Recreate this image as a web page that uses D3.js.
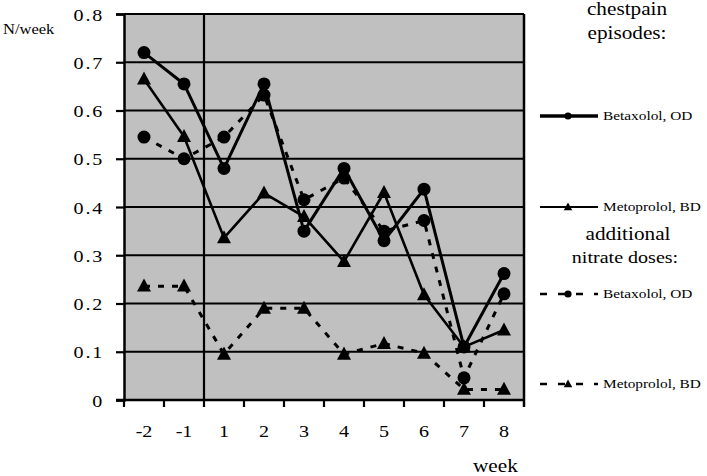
<!DOCTYPE html>
<html><head><meta charset="utf-8">
<script src="https://cdn.jsdelivr.net/npm/d3@7"></script>
<style>
html,body{margin:0;padding:0;background:#fff;}
svg{display:block;}
text{font-family:"Liberation Serif","Times New Roman",serif;fill:#000;}
</style></head>
<body>
<svg id="chart" width="707" height="476"></svg>
<script>
// ---- data ----
const weeks = ["-2","-1","1","2","3","4","5","6","7","8"];
const chestBetaxolol = [0.72, 0.655, 0.48, 0.655, 0.35, 0.48, 0.33, 0.437, 0.11, 0.262];
const chestMetoprolol = [0.665, 0.546, 0.336, 0.429, 0.38, 0.287, 0.43, 0.218, 0.11, 0.145];
const nitrateBetaxolol = [0.545, 0.50, 0.545, 0.632, 0.415, 0.46, 0.35, 0.372, 0.046, 0.22];
const nitrateMetoprolol = [0.236, 0.236, 0.095, 0.19, 0.19, 0.095, 0.117, 0.097, 0.022, 0.022];
const yTicks = [0, 0.1, 0.2, 0.3, 0.4, 0.5, 0.6, 0.7, 0.8];
const yTickLabels = ["0","0.1","0.2","0.3","0.4","0.5","0.6","0.7","0.8"];
const legendItems = [
  {label:"Betaxolol, OD", marker:"circle", dashed:false},
  {label:"Metoprolol, BD", marker:"triangle", dashed:false},
  {label:"Betaxolol, OD", marker:"circle", dashed:true},
  {label:"Metoprolol, BD", marker:"triangle", dashed:true}
];

const svg = d3.select("#chart");
const L = 124, R = 524, T = 14, B = 400;
const SX = 1.18; // horizontal text stretch

const x = d3.scaleBand().domain(weeks).range([L, R]).paddingInner(0).paddingOuter(0);
const y = d3.scaleLinear().domain([0, 0.8]).range([B, T]);
const cx = d => x(d) + x.bandwidth()/2;

function txt(px, py, s, size, anchor, extra){
  const t = svg.append("text")
    .attr("transform", `translate(${px},${py}) scale(${SX},1)`)
    .attr("font-size", size)
    .attr("text-anchor", anchor || "start")
    .text(s);
  if (extra) extra(t);
  return t;
}

// plot background
svg.append("rect").attr("x", L).attr("y", T).attr("width", R - L).attr("height", B - T).attr("fill", "#c0c0c0");

// horizontal gridlines
svg.append("g").selectAll("line").data(yTicks.filter(v => v > 0)).join("line")
  .attr("x1", L).attr("x2", R).attr("y1", d => y(d)).attr("y2", d => y(d))
  .attr("stroke", "#000").attr("stroke-width", 2);

// vertical separator between run-in (-1) and treatment (1)
svg.append("line").attr("x1", x("1")).attr("x2", x("1")).attr("y1", T).attr("y2", B)
  .attr("stroke", "#000").attr("stroke-width", 2.2);

// right border
svg.append("line").attr("x1", R).attr("x2", R).attr("y1", T).attr("y2", B + 7)
  .attr("stroke", "#000").attr("stroke-width", 2.5);

// y axis
const yAxis = d3.axisLeft(y).tickValues(yTicks).tickSize(8).tickFormat("");
const gy = svg.append("g").attr("transform", `translate(${L},0)`).call(yAxis);
gy.select(".domain").attr("stroke", "#000").attr("stroke-width", 2.5);
gy.selectAll(".tick line").attr("stroke", "#000").attr("stroke-width", 2.2);

// x axis
const xTickPos = weeks.map(w => x(w));
const gx = svg.append("g");
gx.append("line").attr("x1", L - 8).attr("x2", R + 1).attr("y1", B).attr("y2", B)
  .attr("stroke", "#000").attr("stroke-width", 2.5);
gx.selectAll("line.xt").data(xTickPos).join("line").attr("class","xt")
  .attr("x1", d => d).attr("x2", d => d).attr("y1", B).attr("y2", B + 7)
  .attr("stroke", "#000").attr("stroke-width", 2.2);

// y tick labels
yTicks.forEach((v, i) => {
  txt(104, y(v) + 6.5, yTickLabels[i], 17, "end", t => t.attr("letter-spacing", "1.5px"));
});
// x tick labels
weeks.forEach(w => txt(cx(w), 437, w, 17, "middle"));

// axis titles
txt(3, 34, "N/week", 14, "start");
txt(473, 472, "week", 18, "start");

// series
const line = d3.line().x((d, i) => cx(weeks[i])).y(d => y(d));
const triPath = (s) => { const w = s, h = s * 0.93; return `M0,${-h*0.58}L${w/2},${h*0.42}L${-w/2},${h*0.42}Z`; };

function drawSeries(vals, dashed, marker, width){
  svg.append("path").datum(vals).attr("d", line)
    .attr("fill", "none").attr("stroke", "#000").attr("stroke-width", width)
    .attr("stroke-dasharray", dashed ? "6,8" : null)
    .attr("stroke-linejoin", "round");
  const g = svg.append("g");
  if (marker === "circle") {
    g.selectAll("circle").data(vals).join("circle")
      .attr("cx", (d, i) => cx(weeks[i])).attr("cy", d => y(d)).attr("r", 6.5).attr("fill", "#000");
  } else {
    g.selectAll("path").data(vals).join("path")
      .attr("transform", (d, i) => `translate(${cx(weeks[i])},${y(d)})`)
      .attr("d", triPath(14)).attr("fill", "#000");
  }
}
drawSeries(nitrateMetoprolol, true, "triangle", 3);
drawSeries(nitrateBetaxolol, true, "circle", 3);
drawSeries(chestMetoprolol, false, "triangle", 2.6);
drawSeries(chestBetaxolol, false, "circle", 3);

// legend
txt(627, 15, "chestpain", 18, "middle");
txt(627, 39, "episodes:", 18, "middle");
txt(628, 240, "additional", 18, "middle");
txt(625, 263, "nitrate doses:", 17, "middle");

const legendY = [116, 207, 294, 384];
legendItems.forEach((it, i) => {
  const ly = legendY[i];
  const g = svg.append("g");
  if (it.dashed) {
    g.append("line").attr("x1", 540).attr("x2", 598).attr("y1", ly).attr("y2", ly)
      .attr("stroke", "#000").attr("stroke-width", 2.5).attr("stroke-dasharray", "7,11");
  } else {
    g.append("line").attr("x1", 540).attr("x2", 598).attr("y1", ly).attr("y2", ly)
      .attr("stroke", "#000").attr("stroke-width", i === 0 ? 3.3 : 2);
  }
  if (it.marker === "circle") {
    g.append("circle").attr("cx", 568).attr("cy", ly).attr("r", 3.6).attr("fill", "#000");
  } else {
    g.append("path").attr("transform", `translate(568,${ly})`).attr("d", triPath(8.5)).attr("fill", "#000");
  }
  txt(603, ly + 4, it.label, 13, "start");
});
</script>
</body></html>
